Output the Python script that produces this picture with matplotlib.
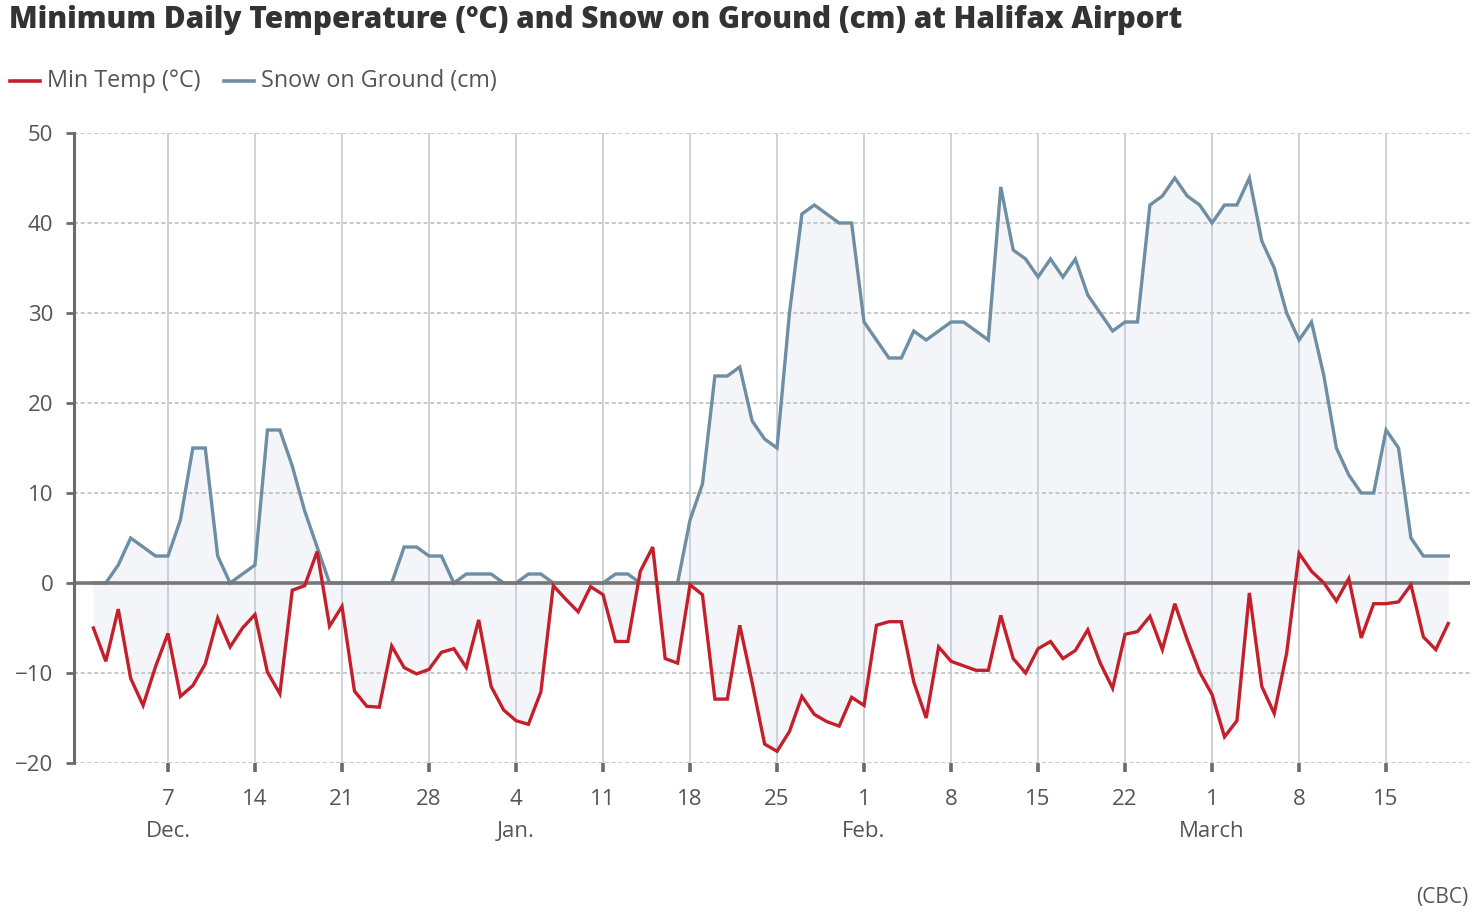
import matplotlib
matplotlib.use("Agg")
import matplotlib.pyplot as plt
from matplotlib.lines import Line2D
import pandas as pd
import numpy as np

# ---- data ----
start_date = "2018-12-01"
n_days = 110

min_temp = [
    -5.0, -8.7, -2.9, -10.6, -13.6, -9.3, -5.6, -12.6, -11.4, -9.0,
    -3.9, -7.1, -5.0, -3.5, -9.9, -12.3, -0.8, -0.3, 3.5, -4.8,
    -2.6, -12.0, -13.7, -13.8, -7.0, -9.4, -10.1, -9.6, -7.7, -7.3,
    -9.4, -4.1, -11.5, -14.1, -15.3, -15.7, -12.1, -0.3, -1.8, -3.2,
    -0.4, -1.3, -6.5, -6.5, 1.3, 4.0, -8.4, -8.9, -0.2, -1.3,
    -12.9, -12.9, -4.7, -11.1, -17.9, -18.7, -16.5, -12.6, -14.6, -15.4,
    -15.9, -12.7, -13.6, -4.7, -4.3, -4.3, -11.0, -15.0, -7.1, -8.7,
    -9.2, -9.7, -9.7, -3.6, -8.4, -10.0, -7.3, -6.5, -8.4, -7.5,
    -5.2, -8.9, -11.7, -5.7, -5.4, -3.7, -7.4, -2.3, -6.3, -9.9,
    -12.4, -17.1, -15.3, -1.1, -11.5, -14.5, -7.8, 3.3, 1.3, 0.0,
    -2.0, 0.5, -6.1, -2.3, -2.3, -2.1, -0.2, -6.0, -7.4, -4.5,
]

snow_cm = [
    0, 0, 2, 5, 4, 3, 3, 7, 15, 15,
    3, 0, 1, 2, 17, 17, 13, 8, 4, 0,
    0, 0, 0, 0, 0, 4, 4, 3, 3, 0,
    1, 1, 1, 0, 0, 1, 1, 0, 0, 0,
    0, 0, 1, 1, 0, 0, 0, 0, 7, 11,
    23, 23, 24, 18, 16, 15, 30, 41, 42, 41,
    40, 40, 29, 27, 25, 25, 28, 27, 28, 29,
    29, 28, 27, 44, 37, 36, 34, 36, 34, 36,
    32, 30, 28, 29, 29, 42, 43, 45, 43, 42,
    40, 42, 42, 45, 38, 35, 30, 27, 29, 23,
    15, 12, 10, 10, 17, 15, 5, 3, 3, 3,
]

tick_dates = ["2018-12-07", "2018-12-14", "2018-12-21", "2018-12-28",
              "2019-01-04", "2019-01-11", "2019-01-18", "2019-01-25",
              "2019-02-01", "2019-02-08", "2019-02-15", "2019-02-22",
              "2019-03-01", "2019-03-08", "2019-03-15"]
tick_labels = ["7\nDec.", "14", "21", "28", "4\nJan.", "11", "18", "25",
               "1\nFeb.", "8", "15", "22", "1\nMarch", "8", "15"]
y_ticks = [-20, -10, 0, 10, 20, 30, 40, 50]

title = "Minimum Daily Temperature (°C) and Snow on Ground (cm) at Halifax Airport"
legend_labels = ["Min Temp (°C)", "Snow on Ground (cm)"]
source = "(CBC)"

# ---- style ----
RED = "#c4202b"
BLUE = "#6e8ea3"
FILL = "#f3f5f8"
TXT = "#555555"
AXC = "#6b6b6b"
FONT = "Open Sans"

plt.rcParams['font.family'] = [FONT, 'DejaVu Sans']

W, H = 1478, 918
fig = plt.figure(figsize=(W / 100, H / 100), dpi=100)
fig.patch.set_facecolor("white")

L, R, T, B = 74, 1470, 133, 763
ax = fig.add_axes([L / W, 1 - B / H, (R - L) / W, (B - T) / H])

dates = pd.date_range(start_date, periods=n_days, freq="D")
temp = np.array(min_temp, dtype=float)
snow = np.array(snow_cm, dtype=float)

ax.fill_between(dates, temp, 0, color=FILL, lw=0, zorder=0.2)
ax.fill_between(dates, snow, 0, color=FILL, lw=0, zorder=0.2)

ax.plot(dates, snow, color=BLUE, lw=2.4, zorder=3, solid_joinstyle="miter")
ax.axhline(0, color="#777777", lw=2.6, zorder=4)
ax.plot(dates, temp, color=RED, lw=2.4, zorder=5, solid_joinstyle="miter")

x0 = pd.Timestamp(start_date) - pd.Timedelta(days=1.56)
x1 = pd.Timestamp(start_date) + pd.Timedelta(days=110.75)
ax.set_xlim(x0, x1)
ax.set_ylim(-20, 50)

# horizontal dashed gridlines
for yv in y_ticks:
    if yv == 0:
        continue
    ax.axhline(yv, color="#b9b9b9", lw=1.1, ls=(0, (2.6, 1.8)), zorder=0.5)

# vertical gridlines
tds = pd.to_datetime(tick_dates)
for td in tds:
    ax.axvline(td, color="#c7d0d6", lw=1.3, zorder=0.5)

ax.set_xticks(tds)
ax.set_xticklabels(tick_labels)
ax.set_yticks(y_ticks)
ax.set_yticklabels([f"{v}".replace("-", "\u2212") for v in y_ticks])

for s in ["top", "right", "bottom"]:
    ax.spines[s].set_visible(False)
ax.spines["left"].set_color(AXC)
ax.spines["left"].set_linewidth(2.2)
ax.spines["left"].set_zorder(6)

ax.tick_params(axis="y", length=6, width=2.0, color=AXC, labelsize=16,
               labelcolor=TXT, pad=9)
ax.tick_params(axis="x", length=6.5, width=2.6, color=AXC, labelsize=16,
               labelcolor=TXT, pad=12)
for lab in ax.get_xticklabels():
    lab.set_linespacing(1.68)
    lab.set_verticalalignment("top")

# title
fig.text(9 / W, 1 - 20 / H, title, fontsize=21.4, fontweight=800,
         color="#333333", ha="left", va="center")

# legend (manual)
ly = 1 - 81 / H
fig.add_artist(Line2D([10 / W, 40 / W], [ly, ly], color=RED, lw=2.6,
                      transform=fig.transFigure))
fig.text(47 / W, ly, legend_labels[0], fontsize=16.8, color=TXT,
         ha="left", va="center")
fig.add_artist(Line2D([224 / W, 254 / W], [ly, ly], color=BLUE, lw=2.6,
                      transform=fig.transFigure))
fig.text(261 / W, ly, legend_labels[1], fontsize=16.8, color=TXT,
         ha="left", va="center")

fig.text(1468 / W, 1 - 897 / H, source, fontsize=15, color=TXT,
         ha="right", va="center")

fig.savefig("out.png", dpi=100, facecolor="white")
